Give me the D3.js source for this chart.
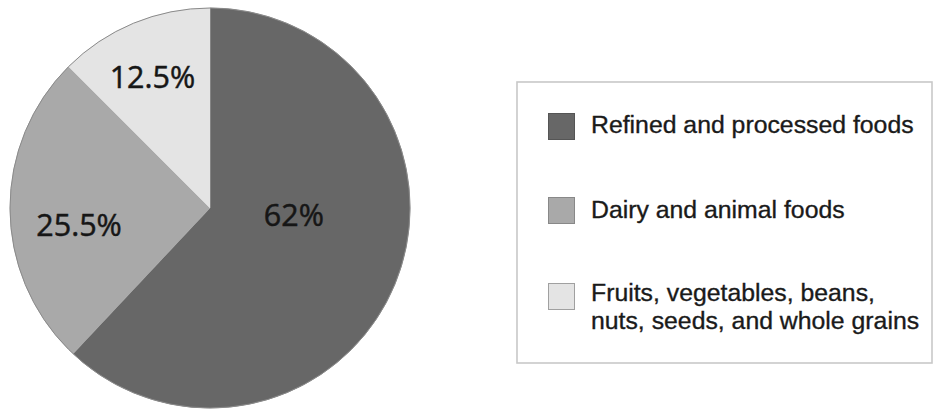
<!DOCTYPE html>
<html>
<head>
<meta charset="utf-8">
<script src="https://cdn.jsdelivr.net/npm/d3@7"></script>
<style>
  html, body { margin: 0; padding: 0; background: #fff; }
  svg { display: block; }
</style>
</head>
<body>
<div id="chart"></div>
<script>
// data
var categories = ["Refined and processed foods", "Dairy and animal foods", "Fruits, vegetables, beans, nuts, seeds, and whole grains"];
var legendLines = [["Refined and processed foods"], ["Dairy and animal foods"], ["Fruits, vegetables, beans,", "nuts, seeds, and whole grains"]];
var shares = [62, 25.5, 12.5];
var shareLabels = ["62%", "25.5%", "12.5%"];

// layout / style
var width = 935, height = 410;
var cx = 210, cy = 208, radius = 200;
var colors = ["#676767", "#a9a9a9", "#e4e4e4"];
var swatchStroke = ["#555", "#888", "#a0a0a0"];
// label placement: fraction of radius along mid-angle, then dx / dy nudges
var labelPlace = [[0.44, 2, -26], [0.655, 0, 14], [0.7, -4, -3]];

var svg = d3.select("#chart")
  .append("svg")
  .attr("width", width)
  .attr("height", height);

// ---------- PIE ----------
var pie = d3.pie().sort(null).value(function(d) { return d; });
var arcs = pie(shares);
var arc = d3.arc().innerRadius(0).outerRadius(radius);

var g = svg.append("g").attr("transform", "translate(" + cx + "," + cy + ")");

g.selectAll("path.slice")
  .data(arcs)
  .enter()
  .append("path")
  .attr("class", "slice")
  .attr("d", arc)
  .style("fill", function(d, i) { return colors[i]; })
  .style("stroke", function(d, i) { return colors[i]; })
  .style("stroke-width", 0.5);

// thin outer rim
g.append("circle")
  .attr("r", radius)
  .style("fill", "none")
  .style("stroke", "#8a8a8a")
  .style("stroke-width", 1);

g.selectAll("text.pct")
  .data(arcs)
  .enter()
  .append("text")
  .attr("class", "pct")
  .attr("x", function(d, i) {
    var a = (d.startAngle + d.endAngle) / 2;
    return Math.sin(a) * radius * labelPlace[i][0] + labelPlace[i][1];
  })
  .attr("y", function(d, i) {
    var a = (d.startAngle + d.endAngle) / 2;
    return -Math.cos(a) * radius * labelPlace[i][0] + labelPlace[i][2];
  })
  .attr("text-anchor", "middle")
  .attr("dominant-baseline", "central")
  .style("font-family", "'Open Sans', 'Noto Sans', sans-serif")
  .style("font-size", "30.5px")
  .style("fill", "#161616")
  .style("stroke", "#161616")
  .style("stroke-width", 0.5)
  .text(function(d, i) { return shareLabels[i]; });

// ---------- LEGEND ----------
var box = { x: 517, y: 82, w: 415, h: 281 };
svg.append("rect")
  .attr("x", box.x)
  .attr("y", box.y)
  .attr("width", box.w)
  .attr("height", box.h)
  .style("fill", "#fff")
  .style("stroke", "#c8c8c8")
  .style("stroke-width", 1.6);

var swatchY = [113, 197, 283];
var textY = [132.5, 218, 300.5];
var lineGap = 28.5;

var items = svg.selectAll("g.item")
  .data(categories)
  .enter()
  .append("g")
  .attr("class", "item");

items.append("rect")
  .attr("x", 548.5)
  .attr("y", function(d, i) { return swatchY[i] + 0.5; })
  .attr("width", 26)
  .attr("height", 26)
  .style("fill", function(d, i) { return colors[i]; })
  .style("stroke", function(d, i) { return swatchStroke[i]; })
  .style("stroke-width", 1);

items.append("text")
  .attr("x", 591)
  .attr("y", function(d, i) { return textY[i]; })
  .style("font-family", "'Liberation Sans', Arial, sans-serif")
  .style("font-size", "24.8px")
  .style("fill", "#1a1a1a")
  .style("stroke", "#1a1a1a")
  .style("stroke-width", 0.35)
  .each(function(d, i) {
    d3.select(this).selectAll("tspan")
      .data(legendLines[i])
      .enter()
      .append("tspan")
      .attr("x", 591)
      .attr("dy", function(t, j) { return j === 0 ? 0 : lineGap; })
      .text(function(t) { return t; });
  });
</script>
</body>
</html>
